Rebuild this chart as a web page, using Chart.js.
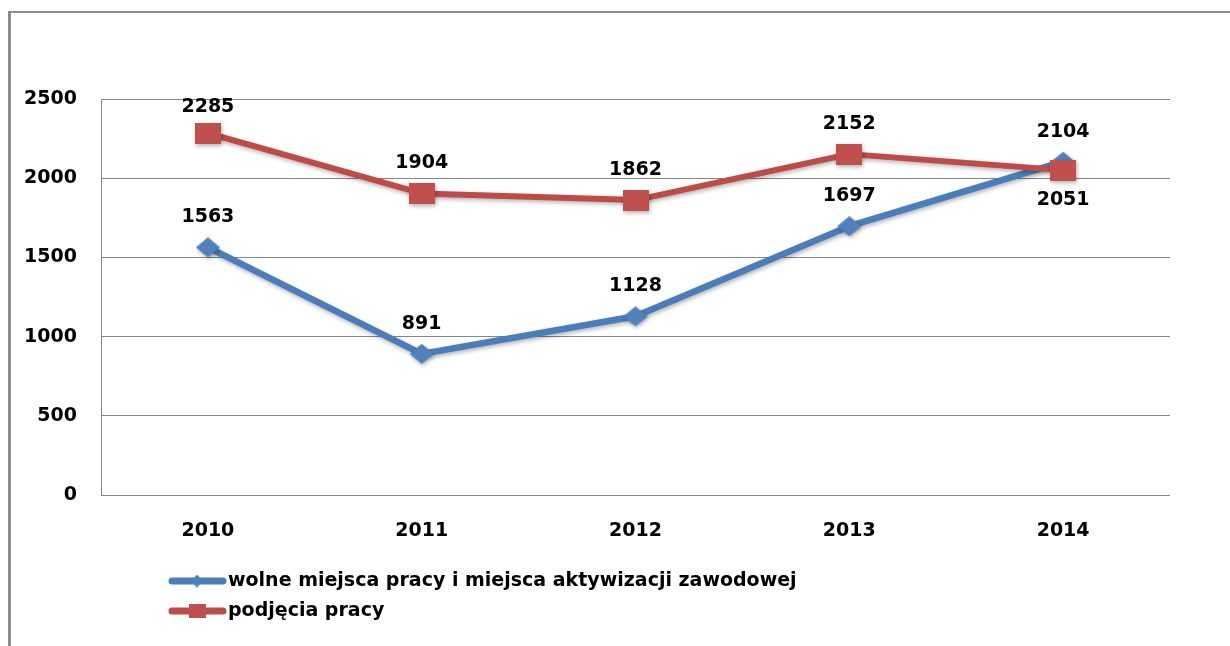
<!DOCTYPE html>
<html>
<head>
<meta charset="utf-8">
<script src="https://cdn.jsdelivr.net/npm/chart.js@4.4.1/dist/chart.umd.min.js"></script>
<style>
  html, body { margin: 0; padding: 0; background: #fff; }
  #wrap { position: relative; width: 1230px; height: 646px; overflow: hidden; }
  #frame {
    position: absolute; left: 8px; top: 11px; width: 1300px; height: 700px;
    border-left: 3px solid #8c8c8c; border-top: 2px solid #8c8c8c;
  }
  #line-chart { position: absolute; left: 0; top: 0; }
</style>
</head>
<body>
<div id="wrap">
  <div id="frame"></div>
  <canvas id="line-chart" width="1230" height="646"></canvas>
</div>
<script>
/////////////////////////////////////////////////////////////////////////////////

// Chart data
var years = ['2010', '2011', '2012', '2013', '2014'];
var wolneMiejsca = [1563, 891, 1128, 1697, 2104];
var podjeciaPracy = [2285, 1904, 1862, 2152, 2051];
var yTicks = [0, 500, 1000, 1500, 2000, 2500];

var seriesNames = ['wolne miejsca pracy i miejsca aktywizacji zawodowej', 'podjęcia pracy'];

var FONT = '"DejaVu Sans", Verdana, sans-serif';
var BLUE = '#4a7ebb', BLUE_MARK = '#4f81bd';
var RED = '#be4b48', RED_MARK = '#c0504d';

// marker images (square / diamond), slightly wider than tall
function makeMarker(shape, w, h, color) {
    var c = document.createElement('canvas');
    c.width = w;
    c.height = h;
    var g = c.getContext('2d');
    g.fillStyle = color;
    if (shape === 'rect') {
        g.fillRect(0, 0, w, h);
    } else {
        g.beginPath();
        g.moveTo(w / 2, 0);
        g.lineTo(w, h / 2);
        g.lineTo(w / 2, h);
        g.lineTo(0, h / 2);
        g.closePath();
        g.fill();
    }
    return c;
}

var blueMarker = makeMarker('diamond', 24, 20, BLUE_MARK);
var redMarker = makeMarker('rect', 26, 21, RED_MARK);
var blueLegendMarker = makeMarker('diamond', 12, 13, BLUE_MARK);
var redLegendMarker = makeMarker('rect', 17, 14, RED_MARK);

// shadows under the series, value labels and the legend at the bottom
var seriesDecor = {
    id: 'seriesDecor',
    beforeDatasetsDraw: function (chart) {
        var ctx = chart.ctx;
        ctx.save();
        ctx.shadowColor = 'rgba(0, 0, 0, 0.3)';
        ctx.shadowBlur = 4;
        ctx.shadowOffsetX = 1;
        ctx.shadowOffsetY = 2;
    },
    afterDatasetsDraw: function (chart) {
        var ctx = chart.ctx;
        ctx.restore();

        ctx.save();
        ctx.font = 'bold 19px ' + FONT;
        ctx.fillStyle = '#000';
        ctx.textAlign = 'center';
        ctx.textBaseline = 'middle';
        var top = chart.chartArea.top;
        chart.data.datasets.forEach(function (ds, i) {
            chart.getDatasetMeta(i).data.forEach(function (pt, j) {
                var below = ds.labelBelow && ds.labelBelow[j];
                var y = below ? pt.y + 30 : pt.y - 30;
                if (y < top + 8) y = top + 8;
                ctx.fillText(String(ds.data[j]), pt.x, y);
            });
        });
        ctx.restore();
    },
    afterDraw: function (chart) {
        var ctx = chart.ctx;
        var x0 = chart.chartArea.left + 67;
        var rowY = [chart.chartArea.bottom + 86, chart.chartArea.bottom + 116];
        var markers = [blueLegendMarker, redLegendMarker];

        ctx.save();
        chart.data.datasets.forEach(function (ds, i) {
            var y = rowY[i];
            ctx.strokeStyle = ds.borderColor;
            ctx.lineWidth = 7;
            ctx.lineCap = 'round';
            ctx.beginPath();
            ctx.moveTo(x0 + 4, y);
            ctx.lineTo(x0 + 55, y);
            ctx.stroke();
            var m = markers[i];
            ctx.drawImage(m, x0 + 29 - m.width / 2, y - m.height / 2);

            ctx.font = 'bold 19px ' + FONT;
            ctx.fillStyle = '#000';
            ctx.textAlign = 'left';
            ctx.textBaseline = 'middle';
            ctx.fillText(ds.label, x0 + 60, y);
        });
        ctx.restore();
    }
};

// Chart Options
var chartOptions = {
    responsive: false,
    animation: false,
    events: [],
    layout: { padding: { top: 99, right: 60, bottom: 100, left: 0 } },
    plugins: {
        legend: { display: false },
        tooltip: { enabled: false }
    },
    scales: {
        x: {
            offset: true,
            afterFit: function (scale) { scale.height = 51; },
            grid: { display: false },
            border: { display: false },
            ticks: { color: '#000', padding: 17, font: { family: FONT, size: 19, weight: 'bold' } }
        },
        y: {
            min: 0,
            max: 2500,
            afterFit: function (scale) { scale.width = 101; },
            afterBuildTicks: function (scale) {
                scale.ticks = yTicks.map(function (v) { return { value: v }; });
            },
            grid: { color: '#868686', lineWidth: 1, drawTicks: false },
            border: { display: true, color: '#868686', width: 1 },
            ticks: {
                color: '#000',
                padding: 24,
                font: { family: FONT, size: 19, weight: 'bold' },
                callback: function (value) { return String(value); }
            }
        }
    }
};

// Chart Data
var chartData = {
    labels: years,
    datasets: [{
        label: seriesNames[0],
        data: wolneMiejsca,
        borderColor: BLUE,
        borderWidth: 6.5,
        borderJoinStyle: 'round',
        borderCapStyle: 'round',
        pointStyle: blueMarker,
        order: 1
    }, {
        label: seriesNames[1],
        data: podjeciaPracy,
        borderColor: RED,
        borderWidth: 6,
        borderJoinStyle: 'round',
        borderCapStyle: 'round',
        pointStyle: redMarker,
        labelBelow: [false, false, false, false, true],
        order: 0
    }]
};

var config = {
    type: 'line',
    options: chartOptions,
    data: chartData,
    plugins: [seriesDecor]
};

// Create the chart
var lineChart = new Chart(document.getElementById('line-chart'), config);

//////////////////////////////////////////////////////////////////////////////////////
</script>
</body>
</html>
